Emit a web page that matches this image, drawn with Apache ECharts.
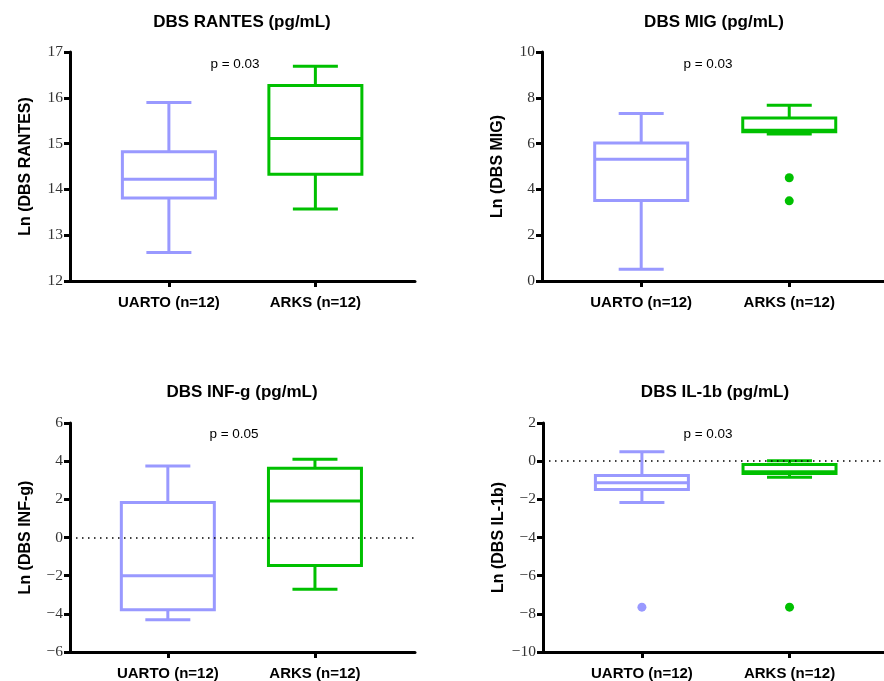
<!DOCTYPE html>
<html>
<head>
<meta charset="utf-8">
<script src="https://cdn.jsdelivr.net/npm/echarts@6/dist/echarts.min.js"></script>
<style>
html,body{margin:0;padding:0;background:#fff;}
#chart{width:884px;height:681px;}
</style>
</head>
<body>
<div id="chart"></div>
<script>
// ---- data ----
const categories = ['UARTO (n=12)', 'ARKS (n=12)'];
const groupColors = ['#9999ff', '#00c000'];

const panelTitles = ['DBS RANTES (pg/mL)', 'DBS MIG (pg/mL)', 'DBS INF-g (pg/mL)', 'DBS IL-1b (pg/mL)'];
const yNames = ['Ln (DBS RANTES)', 'Ln (DBS MIG)', 'Ln (DBS INF-g)', 'Ln (DBS IL-1b)'];
const pValues = ['p = 0.03', 'p = 0.03', 'p = 0.05', 'p = 0.03'];

// [min, Q1, median, Q3, max] for UARTO, ARKS
const rantesBoxes = [[12.62, 13.81, 14.22, 14.82, 15.90], [13.57, 14.33, 15.11, 16.27, 16.69]];
const migBoxes    = [[0.51, 3.52, 5.32, 6.03, 7.31], [6.42, 6.52, 6.58, 7.12, 7.67]];
const infgBoxes   = [[-4.31, -3.79, -2.01, 1.84, 3.75], [-2.71, -1.47, 1.91, 3.63, 4.10]];
const il1bBoxes   = [[-2.16, -1.49, -1.13, -0.75, 0.49], [-0.84, -0.65, -0.55, -0.17, 0.02]];

// outliers: [group index, value]
const rantesOutliers = [];
const migOutliers    = [[1, 4.51], [1, 3.50]];
const infgOutliers   = [];
const il1bOutliers   = [[0, -7.65], [1, -7.65]];

// y axis ranges
const yMins = [12, 0, -6, -10];
const yMaxs = [17, 10, 6, 2];
const yIntervals = [1, 2, 2, 2];
const showZeroLine = [false, false, true, true];

const allBoxes = [rantesBoxes, migBoxes, infgBoxes, il1bBoxes];
const allOutliers = [rantesOutliers, migOutliers, infgOutliers, il1bOutliers];

// ---- layout ----
const grids = [
  {left: 70, right: 469, top: 52, bottom: 400},
  {left: 542, right: 0, top: 52, bottom: 400},
  {left: 70, right: 469, top: 423, bottom: 29},
  {left: 543, right: 0, top: 423, bottom: 29}
];
const xRanges = [[-0.675, 1.68], [-0.67, 1.64], [-0.665, 1.68], [-0.67, 1.64]];
const titlePos = [[242, 22], [714, 22], [242, 392], [715, 392]];
const pPos = [[235, 64], [708, 64], [234, 434], [708, 434]];

const BOX_W = 93, CAP_W = 45, LW = 3;

function renderBox(params, api) {
  const gi = api.value(0);
  const color = groupColors[gi];
  const pMin = api.coord([gi, api.value(1)]);
  const pQ1 = api.coord([gi, api.value(2)]);
  const pMed = api.coord([gi, api.value(3)]);
  const pQ3 = api.coord([gi, api.value(4)]);
  const pMax = api.coord([gi, api.value(5)]);
  const cx = pMed[0];
  const hw = BOX_W / 2, cw = CAP_W / 2;
  const st = {stroke: color, lineWidth: LW, fill: null};
  return {
    type: 'group',
    children: [
      {type: 'line', shape: {x1: cx, y1: pMax[1], x2: cx, y2: pQ3[1]}, style: st},
      {type: 'line', shape: {x1: cx - cw, y1: pMax[1], x2: cx + cw, y2: pMax[1]}, style: st},
      {type: 'line', shape: {x1: cx, y1: pMin[1], x2: cx, y2: pQ1[1]}, style: st},
      {type: 'line', shape: {x1: cx - cw, y1: pMin[1], x2: cx + cw, y2: pMin[1]}, style: st},
      {type: 'rect', shape: {x: cx - hw, y: pQ3[1], width: 2 * hw, height: pQ1[1] - pQ3[1]},
        style: {stroke: color, lineWidth: LW, fill: '#ffffff'}},
      {type: 'line', shape: {x1: cx - hw, y1: pMed[1], x2: cx + hw, y2: pMed[1]}, style: st}
    ]
  };
}

const option = {
  animation: false,
  backgroundColor: '#ffffff',
  grid: grids.map(g => Object.assign({containLabel: false}, g)),
  xAxis: [],
  yAxis: [],
  series: [],
  graphic: []
};

for (let i = 0; i < 4; i++) {
  option.graphic.push({
    type: 'text', x: titlePos[i][0], y: titlePos[i][1],
    style: {text: panelTitles[i], font: 'bold 17px "Liberation Sans", Arial, sans-serif',
      fill: '#000', align: 'center', verticalAlign: 'middle'}
  });
  option.graphic.push({
    type: 'text', x: pPos[i][0], y: pPos[i][1],
    style: {text: pValues[i], font: '13.5px "Liberation Sans", Arial, sans-serif',
      fill: '#000', align: 'center', verticalAlign: 'middle'}
  });
  option.xAxis.push({
    type: 'value', gridIndex: i, min: xRanges[i][0], max: xRanges[i][1],
    splitLine: {show: false},
    axisLine: {show: true, onZero: false, lineStyle: {color: '#000', width: 3}},
    axisTick: {show: true, length: 6, customValues: [0, 1], lineStyle: {color: '#000', width: 3}},
    axisLabel: {show: true, customValues: [0, 1], margin: 14,
      formatter: v => categories[Math.round(v)] || '',
      fontFamily: '"Liberation Sans", Arial, sans-serif', fontWeight: 'bold', fontSize: 15, color: '#000'}
  });
  option.yAxis.push({
    type: 'value', gridIndex: i, min: yMins[i], max: yMaxs[i], interval: yIntervals[i],
    name: yNames[i], nameLocation: 'middle', nameGap: 36, nameRotate: 90,
    nameTextStyle: {fontFamily: '"Liberation Sans", Arial, sans-serif', fontWeight: 'bold', fontSize: 16, color: '#000'},
    splitLine: {show: false},
    axisLine: {show: true, onZero: false, lineStyle: {color: '#000', width: 3}},
    axisTick: {show: true, length: 6, lineStyle: {color: '#000', width: 3}},
    axisLabel: {margin: 7, fontFamily: '"Liberation Serif", "Times New Roman", serif', fontSize: 15.5, color: '#333',
      formatter: v => String(v).replace('-', '\u2212')}
  });
  if (showZeroLine[i]) {
    option.series.push({
      type: 'scatter', xAxisIndex: i, yAxisIndex: i, data: [], z: 1, silent: true,
      markLine: {silent: true, symbol: 'none', label: {show: false},
        lineStyle: {color: '#000', width: 1.5, type: [1.5, 4.5]},
        data: [{yAxis: 0}]}
    });
  }
  option.series.push({
    type: 'custom', xAxisIndex: i, yAxisIndex: i, z: 3,
    renderItem: renderBox,
    data: allBoxes[i].map((b, gi) => [gi].concat(b))
  });
  if (allOutliers[i].length) {
    option.series.push({
      type: 'scatter', xAxisIndex: i, yAxisIndex: i, z: 4, symbolSize: 9,
      data: allOutliers[i].map(o => ({value: o, itemStyle: {color: groupColors[o[0]], opacity: 1}}))
    });
  }
}

const chart = echarts.init(document.getElementById('chart'), null, {renderer: 'canvas'});
chart.setOption(option);
</script>
</body>
</html>
